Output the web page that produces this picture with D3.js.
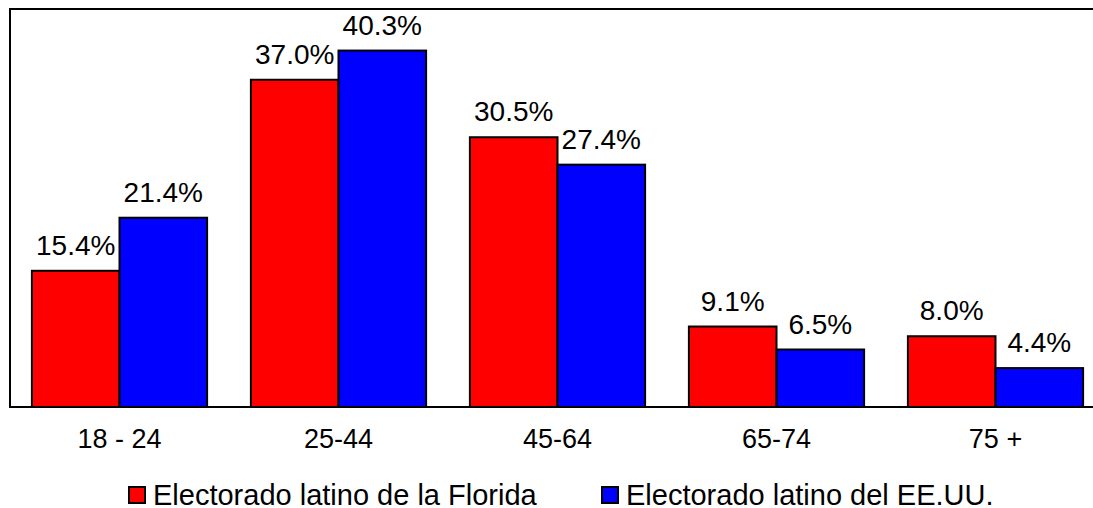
<!DOCTYPE html>
<html>
<head>
<meta charset="utf-8">
<script src="https://cdn.jsdelivr.net/npm/d3@7"></script>
<style>
  body { margin: 0; background: #fff; }
  svg text { font-family: "Liberation Sans", Arial, sans-serif; fill: #000; }
</style>
</head>
<body>
<svg id="chart" width="1093" height="508"></svg>
<script>
// age groups and the two series (percent)
var categories = ["18 - 24", "25-44", "45-64", "65-74", "75 +"];
var seriesNames = ["Electorado latino de la Florida", "Electorado latino del EE.UU."];
var florida = [15.4, 37.0, 30.5, 9.1, 8.0];
var usa = [21.4, 40.3, 27.4, 6.5, 4.4];
var colors = ["#ff0000", "#0000ff"];

(function() {
	var svg = d3.select("#chart");

	// plot frame runs past the right edge of the picture
	var pLeft = 10, pTop = 9, pBottom = 407, pRight = 1105;

	var x = d3.scaleBand()
		.domain(categories)
		.range([pLeft, pRight])
		.paddingInner(0.2)
		.paddingOuter(0.1);

	var xs = d3.scaleBand()
		.domain([0, 1])
		.range([0, x.bandwidth()]);

	var y = d3.scaleLinear()
		.domain([0, 45])
		.range([pBottom, pTop]);

	var rows = categories.map(function(c, i) {
		return { cat: c, vals: [florida[i], usa[i]] };
	});

	var groups = svg.selectAll("g.grp")
		.data(rows)
		.enter().append("g")
		.attr("class", "grp")
		.attr("transform", function(d) { return "translate(" + x(d.cat) + ",0)"; });

	groups.selectAll("rect")
		.data(function(d) { return d.vals; })
		.enter().append("rect")
		.attr("x", function(d, j) { return xs(j); })
		.attr("y", function(d) { return y(d); })
		.attr("width", xs.bandwidth())
		.attr("height", function(d) { return pBottom - y(d); })
		.attr("fill", function(d, j) { return colors[j]; })
		.attr("stroke", "#000")
		.attr("stroke-width", 2);

	groups.selectAll("text.val")
		.data(function(d) { return d.vals; })
		.enter().append("text")
		.attr("class", "val")
		.attr("x", function(d, j) { return xs(j) + xs.bandwidth() / 2; })
		.attr("y", function(d) { return y(d) - 16; })
		.attr("text-anchor", "middle")
		.style("font-size", "28px")
		.text(function(d) { return d.toFixed(1) + "%"; });

	// frame
	svg.append("rect")
		.attr("x", pLeft)
		.attr("y", pTop)
		.attr("width", pRight - pLeft)
		.attr("height", pBottom - pTop)
		.attr("fill", "none")
		.attr("stroke", "#000")
		.attr("stroke-width", 2);

	// category axis
	var xAxis = svg.append("g")
		.attr("transform", "translate(0," + pBottom + ")")
		.call(d3.axisBottom(x).tickSize(0).tickPadding(22));
	xAxis.select(".domain").remove();
	xAxis.selectAll("text")
		.style("font-size", "27px")
		.attr("font-family", null);

	// legend
	var legendX = [129, 602];
	var legend = svg.selectAll("g.leg")
		.data(seriesNames)
		.enter().append("g")
		.attr("class", "leg")
		.attr("transform", function(d, i) { return "translate(" + legendX[i] + ",487)"; });

	legend.append("rect")
		.attr("width", 16)
		.attr("height", 16)
		.attr("fill", function(d, i) { return colors[i]; })
		.attr("stroke", "#000")
		.attr("stroke-width", 2);

	legend.append("text")
		.attr("x", 24)
		.attr("y", 18)
		.style("font-size", "29px")
		.text(function(d) { return d; });
})();
</script>
</body>
</html>
